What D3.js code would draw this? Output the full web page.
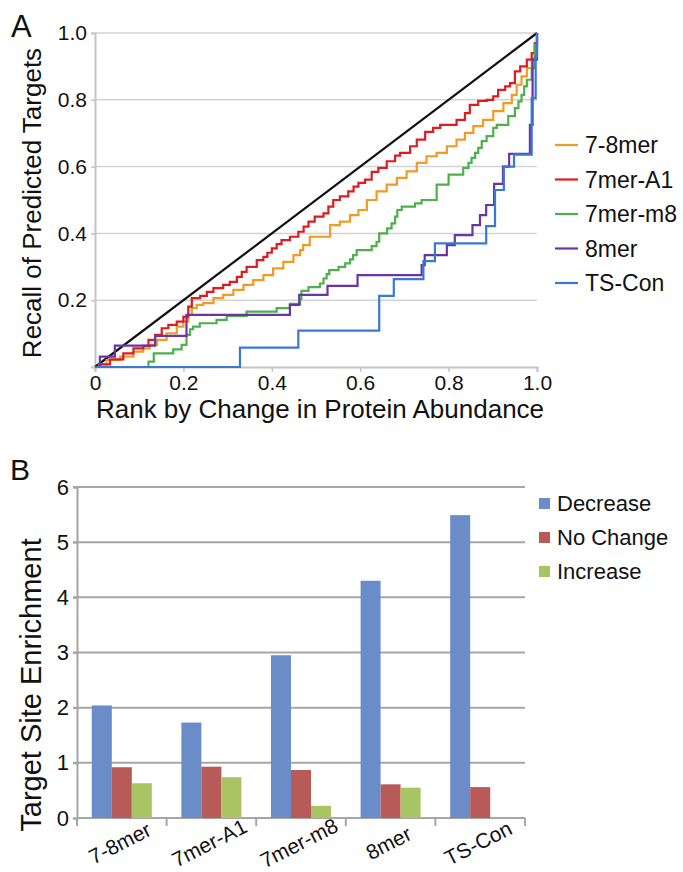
<!DOCTYPE html>
<html lang="en">
<head>
    <meta charset="UTF-8">
    <title>Recall and target site enrichment</title>
    <script src="https://d3js.org/d3.v7.min.js"></script>
    <style>
        body { margin: 0; background: #fff; }
        text { font-family: "Liberation Sans", Arial, sans-serif; fill: #111; }
    </style>
</head>
<body>
<div id="chart"></div>
<script>
    // ---- panel A data: [rank, recall] corners of each step curve ----
    const diagonal = [[0, 0], [1, 1]];
    const s78mer = [[0,0],[0.01,0.008],[0.026,0.021],[0.057,0.031],[0.087,0.046],[0.109,0.056],[0.124,0.066],[0.14,0.081],[0.162,0.101],[0.185,0.121],[0.2,0.136],[0.211,0.156],[0.219,0.176],[0.23,0.186],[0.245,0.191],[0.268,0.206],[0.29,0.216],[0.313,0.231],[0.336,0.246],[0.358,0.26],[0.381,0.275],[0.403,0.295],[0.426,0.315],[0.449,0.335],[0.464,0.35],[0.471,0.365],[0.486,0.39],[0.532,0.425],[0.554,0.435],[0.577,0.455],[0.596,0.47],[0.615,0.5],[0.637,0.526],[0.66,0.546],[0.683,0.566],[0.705,0.586],[0.728,0.611],[0.75,0.631],[0.773,0.641],[0.796,0.661],[0.818,0.681],[0.837,0.701],[0.856,0.721],[0.878,0.74],[0.901,0.766],[0.924,0.79],[0.943,0.815],[0.954,0.845],[0.965,0.87],[0.977,0.895],[0.988,0.925],[0.995,0.965],[1,1]];
    const s7merA1 = [[0,0],[0.012,0.008],[0.034,0.023],[0.064,0.041],[0.087,0.056],[0.109,0.063],[0.121,0.081],[0.136,0.096],[0.151,0.116],[0.166,0.126],[0.185,0.136],[0.2,0.151],[0.211,0.181],[0.219,0.206],[0.238,0.213],[0.253,0.225],[0.268,0.236],[0.29,0.246],[0.305,0.255],[0.321,0.27],[0.332,0.285],[0.343,0.3],[0.366,0.32],[0.381,0.33],[0.39,0.342],[0.4,0.355],[0.411,0.368],[0.422,0.38],[0.441,0.39],[0.46,0.405],[0.472,0.42],[0.483,0.435],[0.497,0.45],[0.517,0.46],[0.528,0.48],[0.539,0.5],[0.554,0.511],[0.573,0.526],[0.585,0.54],[0.596,0.551],[0.611,0.561],[0.626,0.584],[0.641,0.596],[0.66,0.616],[0.679,0.633],[0.69,0.641],[0.713,0.661],[0.728,0.681],[0.747,0.704],[0.765,0.716],[0.781,0.725],[0.818,0.74],[0.837,0.76],[0.848,0.785],[0.867,0.797],[0.886,0.8],[0.901,0.81],[0.912,0.83],[0.928,0.84],[0.939,0.85],[0.95,0.885],[0.962,0.9],[0.977,0.92],[0.988,0.94],[0.995,0.97],[1,1]];
    const s7merM8 = [[0,0],[0.121,0.016],[0.133,0.041],[0.177,0.053],[0.196,0.066],[0.207,0.096],[0.215,0.113],[0.222,0.121],[0.237,0.131],[0.275,0.141],[0.298,0.153],[0.343,0.166],[0.411,0.176],[0.441,0.189],[0.464,0.203],[0.467,0.228],[0.483,0.239],[0.509,0.25],[0.517,0.265],[0.524,0.278],[0.53,0.29],[0.551,0.3],[0.566,0.31],[0.577,0.322],[0.584,0.335],[0.592,0.35],[0.626,0.362],[0.637,0.375],[0.643,0.4],[0.661,0.415],[0.671,0.43],[0.679,0.45],[0.684,0.47],[0.694,0.48],[0.724,0.49],[0.739,0.5],[0.773,0.546],[0.8,0.576],[0.833,0.596],[0.845,0.611],[0.852,0.626],[0.86,0.641],[0.867,0.656],[0.875,0.676],[0.886,0.691],[0.901,0.716],[0.909,0.725],[0.935,0.751],[0.95,0.775],[0.958,0.795],[0.965,0.815],[0.971,0.84],[0.977,0.86],[0.988,0.895],[0.995,0.965],[1,1]];
    const s8mer = [[0,0],[0.011,0.031],[0.045,0.064],[0.136,0.093],[0.207,0.156],[0.441,0.186],[0.462,0.216],[0.526,0.243],[0.594,0.275],[0.739,0.305],[0.746,0.335],[0.796,0.365],[0.814,0.395],[0.854,0.425],[0.871,0.455],[0.885,0.485],[0.903,0.548],[0.923,0.6],[0.937,0.638],[0.984,0.725],[0.99,0.92],[1,1]];
    const sTSCon = [[0,0],[0.328,0.058],[0.46,0.109],[0.643,0.213],[0.676,0.263],[0.743,0.317],[0.769,0.37],[0.885,0.422],[0.905,0.53],[0.925,0.6],[0.948,0.636],[0.988,0.805],[0.997,0.93],[1,1]];

    const seriesA = [
        { name: "7-8mer", color: "#f29b22", values: s78mer },
        { name: "7mer-A1", color: "#e01b1f", values: s7merA1 },
        { name: "7mer-m8", color: "#4db04d", values: s7merM8 },
        { name: "8mer", color: "#6a34a8", values: s8mer },
        { name: "TS-Con", color: "#3979d3", values: sTSCon }
    ];
    const ticksA = [0, 0.2, 0.4, 0.6, 0.8, 1.0];

    // ---- panel B data ----
    const categories = ["7-8mer", "7mer-A1", "7mer-m8", "8mer", "TS-Con"];
    const groups = ["Decrease", "No Change", "Increase"];
    const decrease = [2.04, 1.73, 2.95, 4.30, 5.49];
    const noChange = [0.92, 0.93, 0.87, 0.61, 0.56];
    const increase = [0.63, 0.74, 0.22, 0.55, null];
    const colorsB = ["#6a8cc8", "#b75a58", "#a9c563"];
    const ticksB = [0, 1, 2, 3, 4, 5, 6];

    const svg = d3.select("#chart").append("svg")
        .attr("width", 683)
        .attr("height", 872);

    // ================= Panel A =================
    const xA = d3.scaleLinear().domain([0, 1]).range([95, 537]);
    const yA = d3.scaleLinear().domain([0, 1]).range([367, 33]);

    const gA = svg.append("g");

    // grid lines
    gA.append("g").selectAll("line")
        .data(ticksA.slice(1))
        .enter().append("line")
        .attr("x1", xA(0)).attr("x2", xA(1))
        .attr("y1", d => yA(d)).attr("y2", d => yA(d))
        .attr("stroke", "#d3d3d3").attr("stroke-width", 1.5);

    // axes
    const axisLeftA = gA.append("g")
        .attr("transform", `translate(${xA(0)},0)`)
        .call(d3.axisLeft(yA).tickValues(ticksA.slice(1)).tickSize(4).tickFormat(d3.format(".1f")));
    const axisBottomA = gA.append("g")
        .attr("transform", `translate(0,${yA(0)})`)
        .call(d3.axisBottom(xA).tickValues(ticksA).tickSize(5).tickFormat(d => d === 0 ? "0" : d3.format(".1f")(d)));
    [axisLeftA, axisBottomA].forEach(ax => {
        ax.select(".domain").attr("stroke", "#c4c4c4").attr("stroke-width", 2);
        ax.selectAll(".tick line").attr("stroke", "#c4c4c4").attr("stroke-width", 1.5);
        ax.selectAll(".tick text").attr("font-size", 21).attr("font-family", "Liberation Sans, Arial, sans-serif").attr("fill", "#111");
    });
    axisLeftA.selectAll(".tick text").attr("x", -8);
    axisBottomA.selectAll(".tick text").attr("y", 8);

    // curves
    const stepLine = d3.line().x(d => xA(d[0])).y(d => yA(d[1])).curve(d3.curveStepAfter);
    gA.append("path")
        .attr("d", d3.line().x(d => xA(d[0])).y(d => yA(d[1]))(diagonal))
        .attr("fill", "none").attr("stroke", "#111").attr("stroke-width", 2.2);
    gA.append("g").selectAll("path")
        .data(seriesA)
        .enter().append("path")
        .attr("d", d => stepLine(d.values))
        .attr("fill", "none")
        .attr("stroke", d => d.color)
        .attr("stroke-width", 2.2)
        .attr("stroke-linejoin", "miter");

    // legend A
    const legA = gA.append("g").selectAll("g")
        .data(seriesA)
        .enter().append("g")
        .attr("transform", (d, i) => `translate(555,${145 + i * 34.5})`);
    legA.append("line")
        .attr("x1", 0).attr("x2", 23)
        .attr("stroke", d => d.color).attr("stroke-width", 2.2);
    legA.append("text")
        .attr("x", 30).attr("dy", "0.35em")
        .attr("font-size", 23)
        .text(d => d.name);

    // titles A
    svg.append("text")
        .attr("transform", `translate(41,203) rotate(-90)`)
        .attr("text-anchor", "middle")
        .attr("font-size", 26)
        .text("Recall of Predicted Targets");
    svg.append("text")
        .attr("x", 320).attr("y", 418)
        .attr("text-anchor", "middle")
        .attr("font-size", 26)
        .text("Rank by Change in Protein Abundance");
    svg.append("text")
        .attr("x", 11).attr("y", 37)
        .attr("font-size", 31)
        .text("A");

    // ================= Panel B =================
    const xB = d3.scaleBand().domain(categories).range([77, 525]).paddingInner(0.33).paddingOuter(0.165);
    const xInner = d3.scaleBand().domain(groups).range([0, xB.bandwidth()]);
    const yB = d3.scaleLinear().domain([0, 6]).range([818, 487]);

    const gB = svg.append("g");

    gB.append("g").selectAll("line")
        .data(ticksB.slice(1))
        .enter().append("line")
        .attr("x1", 73).attr("x2", 525)
        .attr("y1", d => yB(d)).attr("y2", d => yB(d))
        .attr("stroke", "#a6a6a6").attr("stroke-width", 2);

    const axisLeftB = gB.append("g")
        .attr("transform", "translate(77,0)")
        .call(d3.axisLeft(yB).tickValues(ticksB).tickSize(4).tickFormat(d3.format("d")));
    axisLeftB.select(".domain").attr("stroke", "#a6a6a6").attr("stroke-width", 2);
    axisLeftB.selectAll(".tick line").attr("stroke", "#a6a6a6").attr("stroke-width", 2);
    axisLeftB.selectAll(".tick text")
        .attr("x", -8)
        .attr("font-size", 22).attr("font-family", "Liberation Sans, Arial, sans-serif").attr("fill", "#111");

    // bottom axis: line plus ticks at group boundaries
    const step = xB.step();
    const boundaries = d3.range(categories.length + 1).map(i => 77 + i * step);
    gB.append("line")
        .attr("x1", 77).attr("x2", 525)
        .attr("y1", yB(0)).attr("y2", yB(0))
        .attr("stroke", "#a6a6a6").attr("stroke-width", 2);
    gB.append("g").selectAll("line")
        .data(boundaries)
        .enter().append("line")
        .attr("x1", d => d).attr("x2", d => d)
        .attr("y1", yB(0)).attr("y2", yB(0) + 8)
        .attr("stroke", "#a6a6a6").attr("stroke-width", 2);

    // bars
    const seriesB = [decrease, noChange, increase];
    const barRows = [];
    categories.forEach((c, i) => {
        groups.forEach((g, j) => {
            if (seriesB[j][i] != null) barRows.push({ cat: c, group: g, value: seriesB[j][i], color: colorsB[j] });
        });
    });
    gB.append("g").selectAll("rect")
        .data(barRows)
        .enter().append("rect")
        .attr("x", d => xB(d.cat) + xInner(d.group))
        .attr("width", xInner.bandwidth())
        .attr("y", d => yB(d.value))
        .attr("height", d => yB(0) - yB(d.value))
        .attr("fill", d => d.color);

    // category labels
    gB.append("g").selectAll("text")
        .data(categories)
        .enter().append("text")
        .attr("transform", d => `translate(${xB(d) + xB.bandwidth() / 2 - 2},843) rotate(-27)`)
        .attr("text-anchor", "middle")
        .attr("dy", "0.35em")
        .attr("font-size", 21)
        .text(d => d);

    // legend B
    const legB = gB.append("g").selectAll("g")
        .data(groups)
        .enter().append("g")
        .attr("transform", (d, i) => `translate(539,${503.5 + i * 34})`);
    legB.append("rect")
        .attr("x", 0).attr("y", -5.5)
        .attr("width", 11).attr("height", 11)
        .attr("fill", (d, i) => colorsB[i]);
    legB.append("text")
        .attr("x", 18).attr("dy", "0.35em")
        .attr("font-size", 22)
        .text(d => d);

    svg.append("text")
        .attr("transform", `translate(41,685) rotate(-90)`)
        .attr("text-anchor", "middle")
        .attr("font-size", 29)
        .text("Target Site Enrichment");
    svg.append("text")
        .attr("x", 10).attr("y", 480)
        .attr("font-size", 30)
        .text("B");
</script>
</body>
</html>
